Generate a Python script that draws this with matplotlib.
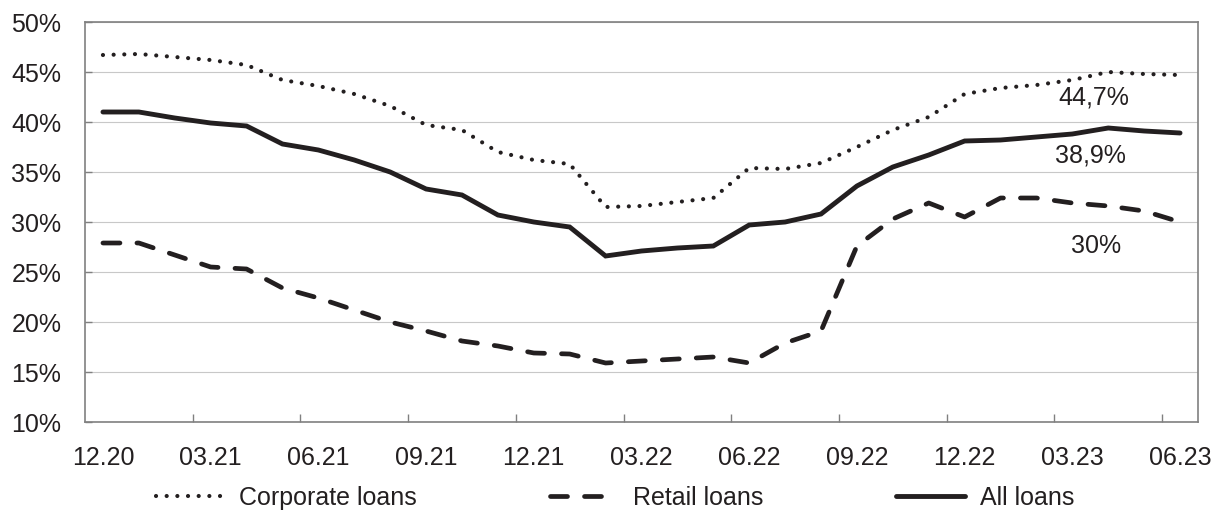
import matplotlib.pyplot as plt
import numpy as np

plt.rcParams['font.family'] = ['Liberation Sans', 'DejaVu Sans']

INK = '#231f20'
FRAME = '#808080'
GRID = '#c8c8c8'
FS = 18

months = ['12.20', '01.21', '02.21', '03.21', '04.21', '05.21', '06.21', '07.21',
          '08.21', '09.21', '10.21', '11.21', '12.21', '01.22', '02.22', '03.22',
          '04.22', '05.22', '06.22', '07.22', '08.22', '09.22', '10.22', '11.22',
          '12.22', '01.23', '02.23', '03.23', '04.23', '05.23', '06.23']

# share of loans, %
corporate = [46.7, 46.8, 46.5, 46.2, 45.7, 44.2, 43.6, 42.8, 41.6, 39.7, 39.2,
             37.0, 36.2, 35.8, 31.5, 31.6, 32.0, 32.4, 35.4, 35.3, 35.9, 37.5,
             39.2, 40.5, 42.8, 43.4, 43.7, 44.2, 45.0, 44.8, 44.7]
retail = [27.9, 27.9, 26.7, 25.5, 25.3, 23.4, 22.4, 21.2, 20.0, 19.1, 18.1,
          17.6, 16.9, 16.8, 15.9, 16.1, 16.3, 16.5, 15.9, 17.9, 19.1, 27.6,
          30.3, 31.9, 30.5, 32.4, 32.4, 31.9, 31.6, 31.1, 30.0]
all_loans = [41.0, 41.0, 40.4, 39.9, 39.6, 37.8, 37.2, 36.2, 35.0, 33.3, 32.7,
             30.7, 30.0, 29.5, 26.6, 27.1, 27.4, 27.6, 29.7, 30.0, 30.8, 33.6,
             35.5, 36.7, 38.1, 38.2, 38.5, 38.8, 39.4, 39.1, 38.9]

series_names = ['Corporate loans', 'Retail loans', 'All loans']
last_labels = ['44,7%', '38,9%', '30%']

x = np.arange(len(months))

fig = plt.figure(figsize=(12.2, 5.11), dpi=100)
ax = fig.add_axes([85 / 1220, 1 - 422 / 511, 1113 / 1220, 400 / 511])

l1, = ax.plot(x, corporate, color=INK, lw=3.0, linestyle=(0, (0.01, 2.55)),
              dash_capstyle='round', label=series_names[0])
l2, = ax.plot(x, retail, color=INK, lw=3.4, linestyle=(0, (3.6, 3.6)),
              dash_capstyle='round', label=series_names[1])
l3, = ax.plot(x, all_loans, color=INK, lw=3.5, solid_capstyle='round',
              solid_joinstyle='miter', label=series_names[2])

# end-of-period values written under each line
ax.text(27.6, 41.8, last_labels[0], ha='center', va='baseline', fontsize=FS, color=INK)
ax.text(27.5, 35.95, last_labels[1], ha='center', va='baseline', fontsize=FS, color=INK)
ax.text(27.65, 26.95, last_labels[2], ha='center', va='baseline', fontsize=FS, color=INK)

ax.set_xlim(-0.5, len(months) - 0.5)
ax.set_ylim(10, 50)

yt = np.arange(10, 51, 5)
ax.set_yticks(yt)
ax.set_yticklabels([f'{v}%' for v in yt])
ax.grid(axis='y', color=GRID, lw=0.8)
ax.set_axisbelow(True)

# tick marks sit on category boundaries, labels on the quarter months
ax.set_xticks(np.arange(2.5, len(months) - 1, 3))
ax.set_xticklabels([])
ax.set_xticks(x[::3], months[::3], minor=True)
ax.tick_params(axis='x', which='major', direction='in', length=6, width=1, color=FRAME)
ax.tick_params(axis='x', which='minor', length=0, pad=17.5, labelsize=FS, labelcolor=INK)
ax.tick_params(axis='y', direction='in', length=5, width=1, color=FRAME, pad=17,
               labelsize=FS, labelcolor=INK)

for s in ax.spines.values():
    s.set_color(FRAME)
    s.set_linewidth(1.2)

fig.legend(handles=[l1, l2, l3], loc='center', bbox_to_anchor=(615 / 1220, 1 - 498 / 511),
           ncol=3, frameon=False, fontsize=FS, handlelength=2.75, handletextpad=0.6,
           columnspacing=5.3, borderpad=0, labelcolor=INK)

fig.savefig('out.png', dpi=100)
